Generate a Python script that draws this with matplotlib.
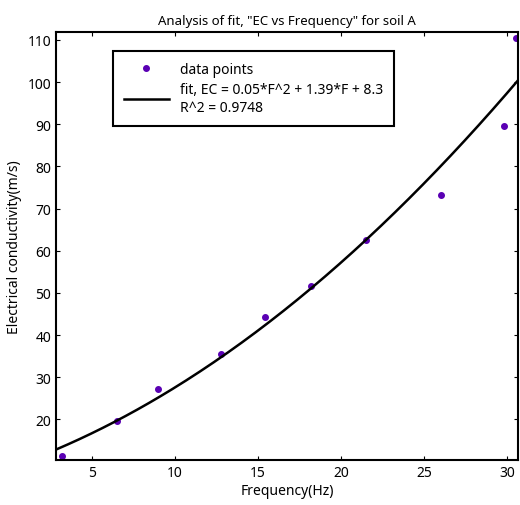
import matplotlib.pyplot as plt
import numpy as np

plt.rcParams['font.family'] = ['Noto Sans', 'DejaVu Sans']

# values
freq = [3.2, 6.5, 9.0, 12.8, 15.4, 18.2, 21.5, 26.0, 29.8, 30.5]
ec = [11.4, 19.6, 27.3, 35.6, 44.2, 51.6, 62.6, 73.2, 89.5, 110.5]

fit_label = 'fit, EC = 0.05*F^2 + 1.39*F + 8.3\nR^2 = 0.9748'

coef = np.polyfit(freq, ec, 2)
xs = np.linspace(2.86, 30.64, 200)

fig = plt.figure(figsize=(5.2, 5.06), dpi=100)
ax = fig.add_axes([0.108, 0.089, 0.888, 0.846])

ax.plot(freq, ec, 'o', color='#5a00b4', markersize=4, label='data points')
ax.plot(xs, np.polyval(coef, xs), color='black', lw=1.8, label=fit_label)

ax.set_xlim(2.86, 30.64)
ax.set_ylim(10.4, 111.9)
ax.set_xticks([5, 10, 15, 20, 25, 30])
ax.set_yticks(range(20, 111, 10))
ax.tick_params(direction='in', top=True, right=True, length=3, labelsize=10)
for s in ax.spines.values():
    s.set_linewidth(1.5)

ax.set_title('Analysis of fit, "EC vs Frequency" for soil A', fontsize=9.5)
ax.set_xlabel('Frequency(Hz)', fontsize=10, labelpad=2)
ax.set_ylabel('Electrical conductivity(m/s)', fontsize=10, labelpad=4)

leg = ax.legend(loc='upper left', bbox_to_anchor=(0.123, 0.956), borderaxespad=0,
                fontsize=10, fancybox=False, framealpha=1, borderpad=0.8,
                handlelength=3.2, labelspacing=0.4)
leg.get_frame().set_edgecolor('black')
leg.get_frame().set_linewidth(1.5)

fig.savefig('out.png')
